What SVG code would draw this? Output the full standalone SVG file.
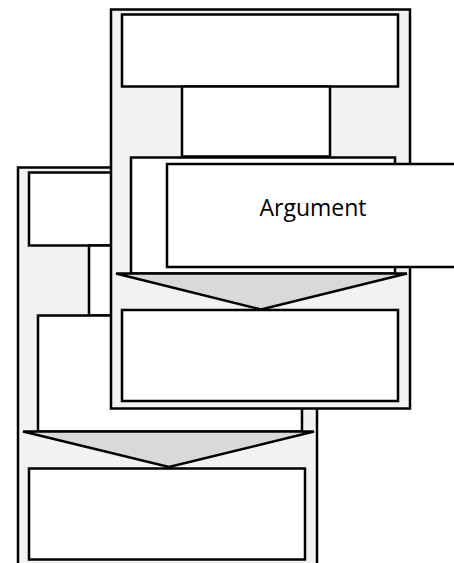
<svg xmlns="http://www.w3.org/2000/svg" width="454" height="563" viewBox="0 0 454 563">
<style>
.box{fill:#ffffff;stroke:#000;stroke-width:2.5}
.cont{fill:#f2f2f2;stroke:#000;stroke-width:2.5}
.arr{fill:#d9d9d9;stroke:#000;stroke-width:2.5;stroke-linejoin:miter}
.lbl{font-family:"Open Sans","Liberation Sans",sans-serif;font-size:23px;fill:#000}
</style>
<rect width="454" height="563" fill="#ffffff"/>
<g id="container-lower">
<rect class="cont" x="18" y="167.5" width="299" height="400"/>
<rect class="box" x="29" y="172.5" width="276" height="73"/>
<rect class="box" x="89" y="245.5" width="148" height="70"/>
<rect class="box" x="38" y="315.5" width="264" height="116"/>
<rect class="box" x="29" y="468.5" width="276" height="91"/>
</g>
<g id="container-upper">
<rect class="cont" x="111" y="9.5" width="299" height="399"/>
<rect class="box" x="122" y="14.5" width="276" height="72"/>
<rect class="box" x="182" y="86.5" width="148" height="70"/>
<rect class="box" x="131" y="157.5" width="264" height="116"/>
<rect class="box" x="122" y="310" width="276" height="91"/>
</g>
<g id="argument">
<rect class="box" x="167" y="164" width="295" height="103"/>
<text class="lbl" x="313" y="215.5" text-anchor="middle">Argument</text>
</g>
<g id="connectors">
<polygon class="arr" points="116,273.5 407,273.5 261,309.5"/>
<polygon class="arr" points="23,431.5 314,431.5 169,467"/>
</g>
</svg>
